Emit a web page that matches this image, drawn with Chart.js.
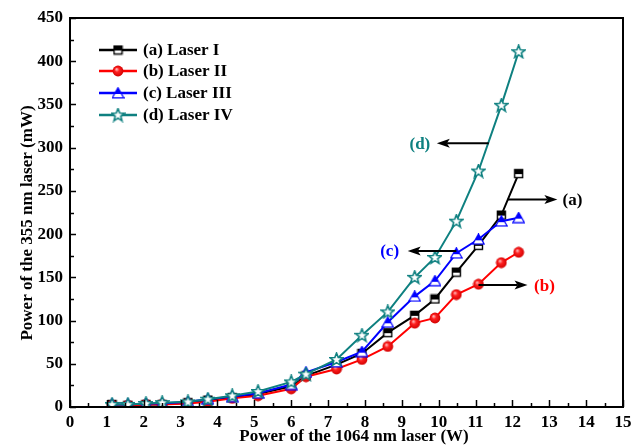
<!DOCTYPE html>
<html><head><meta charset="utf-8">
<script src="https://cdn.jsdelivr.net/npm/chart.js@4"></script>
<style>html,body{margin:0;padding:0;background:#fff}#wrap{width:641px;height:445px}</style>
</head><body><div id="wrap"><canvas id="c" width="641" height="445"></canvas></div>
<script>
// ---- data ----
const xValues   = [1.14, 1.57, 2.06, 2.5, 3.2, 3.74, 4.4, 5.1, 6.0, 6.4, 7.23, 7.92, 8.62, 9.35, 9.9, 10.48, 11.08, 11.7, 12.17];
const laserI    = [3, 2, 3, 3, 5, 8, 11, 15, 24, 36, 49, 62, 86, 106, 125, 156, 187, 222, 270];
const laserII   = [2, 2, 3, 3, 4, 6, 10, 13, 21, 35, 44, 55, 70, 97, 103, 130, 142, 167, 179];
const laserIII  = [3, 3, 4, 4, 6, 9, 12, 16, 26, 40, 52, 64, 98, 128, 146, 178, 194, 215, 219];
const laserIV   = [3, 3, 4, 5, 6, 9, 13, 18, 29, 38, 55, 83, 110, 150, 173, 215, 273, 349, 411];
const seriesNames = ['(a) Laser I', '(b) Laser II', '(c) Laser III', '(d) Laser IV'];
const xTickLabels = [0,1,2,3,4,5,6,7,8,9,10,11,12,13,14,15];
const yTickLabels = [0,50,100,150,200,250,300,350,400,450];
const xTitle = 'Power of the 1064 nm laser (W)';
const yTitle = 'Power of the 355 nm laser (mW)';
const calloutLabels = ['(a)', '(b)', '(c)', '(d)'];
const calloutY      = [240, 141, 180.5, 305];
const calloutFromX  = [11.87, 11.08, 10.48, 11.36];
const calloutToX    = [13.22, 12.41, 9.16, 9.95];
const calloutTextX  = [13.63, 12.87, 8.67, 9.49];

// ---- styles ----
const COLORS = ['#000000', '#ff0000', '#0000ff', '#0e8080'];
const FONT = '"Liberation Serif", "Times New Roman", serif';

function mk(w, h, draw){ const c = document.createElement('canvas'); c.width = w; c.height = h; draw(c.getContext('2d')); return c; }
const mSquare = mk(11, 11, g => {
  g.fillStyle = '#fff'; g.fillRect(1, 1, 9, 9);
  g.fillStyle = '#000'; g.fillRect(1, 1, 9, 5);
  g.strokeStyle = '#000'; g.lineWidth = 1.4; g.strokeRect(1.5, 1.5, 8, 8);
});
const mCircle = mk(12, 12, g => {
  const gr = g.createRadialGradient(4.5, 4.2, 0.5, 6, 6, 5.6);
  gr.addColorStop(0, '#ffb0b0'); gr.addColorStop(0.35, '#ff2020'); gr.addColorStop(1, '#d00000');
  g.fillStyle = gr; g.beginPath(); g.arc(6, 6, 5.4, 0, Math.PI * 2); g.fill();
});
const mTri = mk(13, 12, g => {
  g.beginPath(); g.moveTo(6.5, 0.8); g.lineTo(12.2, 10.8); g.lineTo(0.8, 10.8); g.closePath();
  g.fillStyle = '#fff'; g.fill();
  g.save(); g.clip(); g.fillStyle = '#0000ff'; g.fillRect(0, 0, 13, 7); g.restore();
  g.strokeStyle = '#0000ff'; g.lineWidth = 1.3; g.stroke();
});
const mStar = mk(15, 15, g => {
  g.beginPath();
  for (let i = 0; i < 10; i++) {
    const r = i % 2 ? 2.9 : 6.8, a = -Math.PI / 2 + i * Math.PI / 5;
    const px = 7.5 + r * Math.cos(a), py = 7.8 + r * Math.sin(a);
    i ? g.lineTo(px, py) : g.moveTo(px, py);
  }
  g.closePath(); g.fillStyle = '#fff'; g.fill();
  g.strokeStyle = '#0e8080'; g.lineWidth = 1.6; g.stroke();
});
const MARKERS = [mSquare, mCircle, mTri, mStar];

const seriesData = [laserI, laserII, laserIII, laserIV];
const datasets = seriesData.map((arr, i) => ({
  label: seriesNames[i],
  data: arr.map((v, k) => ({ x: xValues[k], y: v })),
  borderColor: COLORS[i], backgroundColor: COLORS[i], borderWidth: 2,
  pointStyle: MARKERS[i], pointRadius: 5, tension: 0, order: [3, 2, 1, 0][i]
}));

const decor = {
  id: 'decor',
  afterDraw(chart) {
    const g = chart.ctx, a = chart.chartArea, xs = chart.scales.x, ys = chart.scales.y;
    g.save();
    // frame
    g.strokeStyle = '#000'; g.lineWidth = 2;
    g.strokeRect(a.left, a.top, a.right - a.left, a.bottom - a.top);
    // ticks (inside)
    g.lineWidth = 1.5;
    for (let v = 0; v <= 15.001; v += 0.5) {
      const px = Math.round(xs.getPixelForValue(v)) + 0.5, L = Math.abs(v - Math.round(v)) < 1e-6 ? 7 : 4;
      g.beginPath(); g.moveTo(px, a.bottom); g.lineTo(px, a.bottom - L); g.stroke();
    }
    for (let v = 0; v <= 450; v += 25) {
      const py = Math.round(ys.getPixelForValue(v)) + 0.5, L = v % 50 === 0 ? 6 : 4;
      g.beginPath(); g.moveTo(a.left, py); g.lineTo(a.left + L, py); g.stroke();
    }
    // tick labels
    g.fillStyle = '#000'; g.font = 'bold 17px ' + FONT;
    g.textAlign = 'center'; g.textBaseline = 'middle';
    xTickLabels.forEach(v => g.fillText(String(v), xs.getPixelForValue(v), a.bottom + 16));
    g.textAlign = 'right';
    yTickLabels.forEach(v => g.fillText(String(v), a.left - 7, ys.getPixelForValue(v)));
    // titles
    g.textAlign = 'center';
    g.fillText(xTitle, 354, 437);
    g.save(); g.translate(28, 223); g.rotate(-Math.PI / 2); g.fillText(yTitle, 0, 0); g.restore();
    // legend
    const rows = [50, 71, 93, 115];
    seriesNames.forEach((n, i) => {
      g.strokeStyle = COLORS[i]; g.lineWidth = 2.5;
      g.beginPath(); g.moveTo(99, rows[i]); g.lineTo(137, rows[i]); g.stroke();
      const m = MARKERS[i]; g.drawImage(m, 118 - m.width / 2, rows[i] - m.height / 2);
      g.fillStyle = '#000'; g.textAlign = 'left'; g.font = 'bold 17px ' + FONT;
      g.fillText(n, 143, rows[i] + 1);
    });
    // callouts
    calloutLabels.forEach((t, i) => {
      const y = ys.getPixelForValue(calloutY[i]);
      const x0 = xs.getPixelForValue(calloutFromX[i]), x1 = xs.getPixelForValue(calloutToX[i]);
      const dir = Math.sign(x1 - x0);
      g.strokeStyle = '#000'; g.lineWidth = 2;
      g.beginPath(); g.moveTo(x0, y); g.lineTo(x1 - dir * 10, y); g.stroke();
      g.fillStyle = '#000'; g.beginPath();
      g.moveTo(x1, y); g.lineTo(x1 - dir * 13, y - 4.5); g.lineTo(x1 - dir * 10, y); g.lineTo(x1 - dir * 13, y + 4.5); g.closePath(); g.fill();
      g.fillStyle = COLORS[i]; g.textAlign = 'center'; g.font = 'bold 17px ' + FONT;
      g.fillText(t, xs.getPixelForValue(calloutTextX[i]), y + 1);
    });
    g.restore();
  }
};

new Chart(document.getElementById('c'), {
  type: 'line',
  data: { datasets },
  options: {
    responsive: false, animation: false, devicePixelRatio: 1,
    layout: { padding: { left: 70, top: 18, right: 18, bottom: 38 } },
    plugins: { legend: { display: false }, tooltip: { enabled: false } },
    scales: {
      x: { type: 'linear', min: 0, max: 15, display: false },
      y: { type: 'linear', min: 0, max: 450, display: false }
    }
  },
  plugins: [decor]
});
</script>
</body></html>
